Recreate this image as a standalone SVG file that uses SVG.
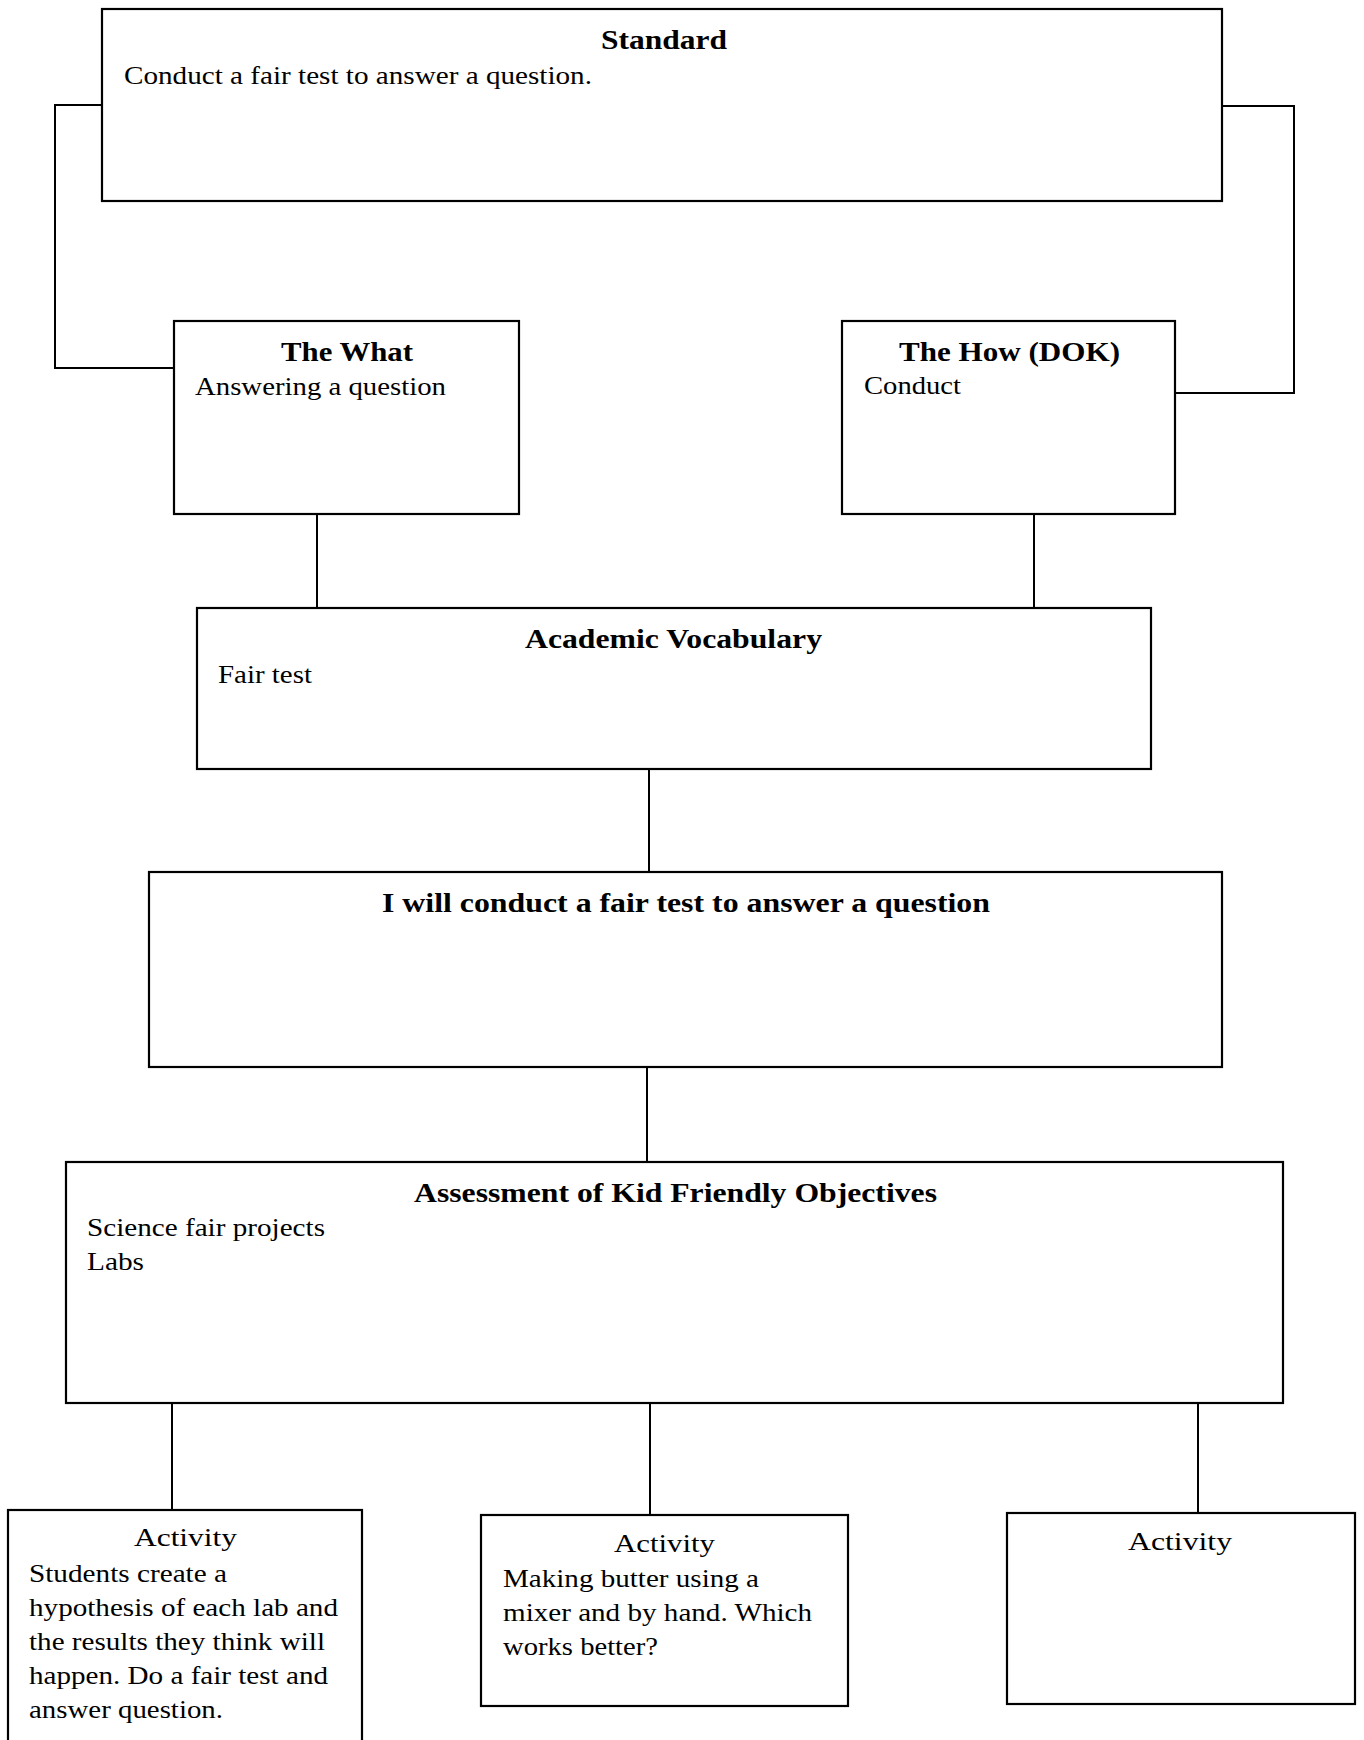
<svg xmlns="http://www.w3.org/2000/svg" width="1364" height="1740" viewBox="0 0 1364 1740">
<style>
.box{fill:#fff;stroke:#000;stroke-width:2.2}
.con{fill:none;stroke:#000;stroke-width:2}
text{font-family:"Liberation Serif","Times New Roman",serif;font-size:26px;fill:#000}
.t{font-weight:bold;font-size:27px}
</style>
<rect width="1364" height="1740" fill="#fff"/>
<g id="connectors">
<polyline class="con" points="102,105 55,105 55,368 174,368"/>
<polyline class="con" points="1222,106 1294,106 1294,393 1175,393"/>
<line class="con" x1="317" y1="514" x2="317" y2="608"/>
<line class="con" x1="1034" y1="514" x2="1034" y2="608"/>
<line class="con" x1="649" y1="769" x2="649" y2="872"/>
<line class="con" x1="647" y1="1067" x2="647" y2="1162"/>
<line class="con" x1="172" y1="1403" x2="172" y2="1510"/>
<line class="con" x1="650" y1="1403" x2="650" y2="1515"/>
<line class="con" x1="1198" y1="1403" x2="1198" y2="1513"/>
</g>
<g id="standard">
<rect class="box" x="102" y="9" width="1120" height="192"/>
<text class="t" x="601" y="49" textLength="126" lengthAdjust="spacingAndGlyphs">Standard</text>
<text x="124" y="84" textLength="468" lengthAdjust="spacingAndGlyphs">Conduct a fair test to answer a question.</text>
</g>
<g id="what">
<rect class="box" x="174" y="321" width="345" height="193"/>
<text class="t" x="281" y="361" textLength="132" lengthAdjust="spacingAndGlyphs">The What</text>
<text x="195" y="395" textLength="251" lengthAdjust="spacingAndGlyphs">Answering a question</text>
</g>
<g id="how">
<rect class="box" x="842" y="321" width="333" height="193"/>
<text class="t" x="899" y="361" textLength="221" lengthAdjust="spacingAndGlyphs">The How (DOK)</text>
<text x="864" y="394" textLength="97" lengthAdjust="spacingAndGlyphs">Conduct</text>
</g>
<g id="vocab">
<rect class="box" x="197" y="608" width="954" height="161"/>
<text class="t" x="525" y="648" textLength="297" lengthAdjust="spacingAndGlyphs">Academic Vocabulary</text>
<text x="218" y="683" textLength="94" lengthAdjust="spacingAndGlyphs">Fair test</text>
</g>
<g id="iwill">
<rect class="box" x="149" y="872" width="1073" height="195"/>
<text class="t" x="382" y="912" textLength="608" lengthAdjust="spacingAndGlyphs">I will conduct a fair test to answer a question</text>
</g>
<g id="assessment">
<rect class="box" x="66" y="1162" width="1217" height="241"/>
<text class="t" x="414" y="1202" textLength="523" lengthAdjust="spacingAndGlyphs">Assessment of Kid Friendly Objectives</text>
<text x="87" y="1236" textLength="238" lengthAdjust="spacingAndGlyphs">Science fair projects</text>
<text x="87" y="1270" textLength="57" lengthAdjust="spacingAndGlyphs">Labs</text>
</g>
<g id="activity1">
<rect class="box" x="8" y="1510" width="354" height="250"/>
<text x="134" y="1546" textLength="103" lengthAdjust="spacingAndGlyphs">Activity</text>
<text x="29" y="1582" textLength="198" lengthAdjust="spacingAndGlyphs">Students create a</text>
<text x="29" y="1616" textLength="309" lengthAdjust="spacingAndGlyphs">hypothesis of each lab and</text>
<text x="29" y="1650" textLength="296" lengthAdjust="spacingAndGlyphs">the results they think will</text>
<text x="29" y="1684" textLength="299" lengthAdjust="spacingAndGlyphs">happen. Do a fair test and</text>
<text x="29" y="1718" textLength="194" lengthAdjust="spacingAndGlyphs">answer question.</text>
</g>
<g id="activity2">
<rect class="box" x="481" y="1515" width="367" height="191"/>
<text x="614" y="1552" textLength="101" lengthAdjust="spacingAndGlyphs">Activity</text>
<text x="503" y="1587" textLength="256" lengthAdjust="spacingAndGlyphs">Making butter using a</text>
<text x="503" y="1621" textLength="309" lengthAdjust="spacingAndGlyphs">mixer and by hand. Which</text>
<text x="503" y="1655" textLength="155" lengthAdjust="spacingAndGlyphs">works better?</text>
</g>
<g id="activity3">
<rect class="box" x="1007" y="1513" width="348" height="191"/>
<text x="1128" y="1550" textLength="104" lengthAdjust="spacingAndGlyphs">Activity</text>
</g>
</svg>
